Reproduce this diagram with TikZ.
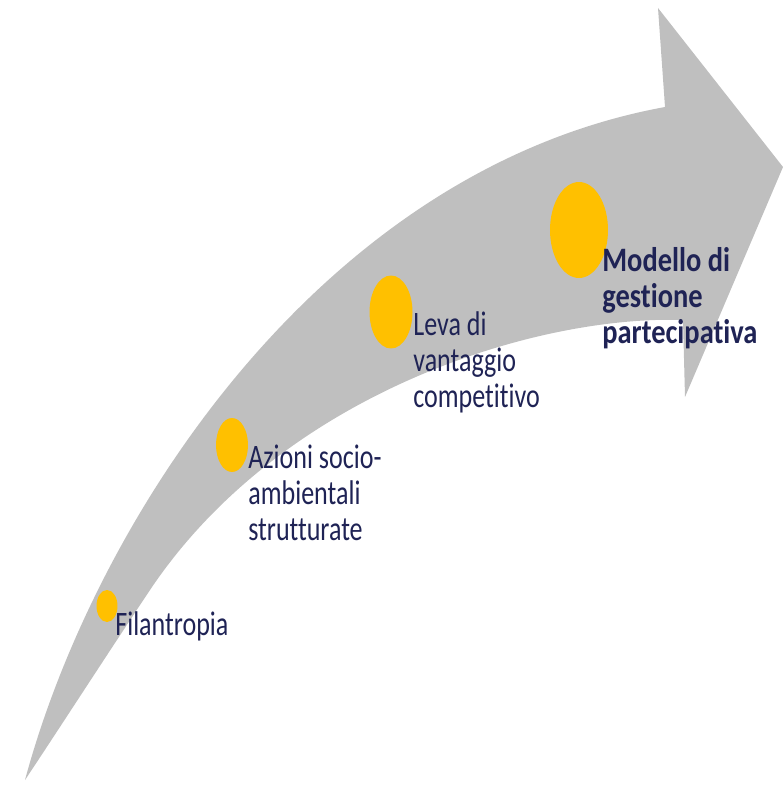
\documentclass[tikz,border=0pt]{standalone}
\usepackage{fontspec}
\usepackage{xcolor}
\usetikzlibrary{shapes.geometric,positioning}
\newfontfamily\stepfont[FakeStretch=0.76, Ligatures=NoCommon,
    BoldFeatures={FakeStretch=0.83}]{Carlito}
\definecolor{arrowgray}{RGB}{191,191,191}
\definecolor{dotgold}{RGB}{255,192,0}
\definecolor{labelnavy}{RGB}{31,35,85}

\begin{document}
\begin{tikzpicture}[
    x=0.02cm, y=-0.02cm,
    dot/.style={ellipse, fill=dotgold, inner sep=0pt},
    steplabel/.style={anchor=base west, align=left, inner sep=0pt, text=labelnavy,
        font=\stepfont\fontsize{19.5}{20.4}\selectfont}
]
    \useasboundingbox (0,0) rectangle (783,787);

    % curved arrow
    \fill[arrowgray] (25,780) .. controls (95,520) and (320,170) .. (665,107)
        -- (658,8) -- (783,167) -- (685,397) -- (683,320)
        .. controls (540,315) and (284,390) .. (150,590)
        .. controls (110,650) and (55,735) .. (25,780) -- cycle;

    \node[dot, minimum width=0.42cm, minimum height=0.64cm] (filantropia) at (107,606) {};
    \node[dot, minimum width=0.64cm, minimum height=1.08cm] (azioni) at (232,445) {};
    \node[dot, minimum width=0.86cm, minimum height=1.46cm] (leva) at (391,312) {};
    \node[dot, minimum width=1.16cm, minimum height=1.92cm] (modello) at (579,230) {};

    % base = last line
    \node[steplabel] (filantropia text) at (115,635) {Filantropia};
    \node[steplabel] (azioni text) at (248,540) {Azioni socio-\\ambientali\\strutturate};
    \node[steplabel] (leva text) at (413,407) {Leva di\\vantaggio\\competitivo};
    \node[steplabel, font=\stepfont\bfseries\fontsize{19.5}{20.4}\selectfont] (modello text) at (602,343) {Modello di\\gestione\\partecipativa};
\end{tikzpicture}
\end{document}
